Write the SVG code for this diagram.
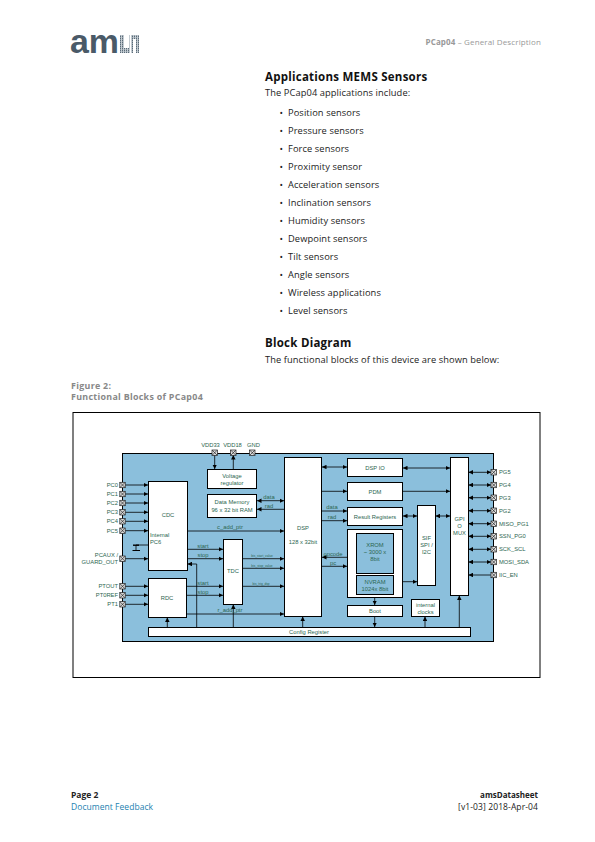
<svg xmlns="http://www.w3.org/2000/svg" width="595" height="842" viewBox="0 0 595 842">
<style>
text{font-family:"Open Sans","Noto Sans",sans-serif;fill:#222}
.h{font-weight:700;font-size:11.5px;fill:#111}
.b{font-size:9.3px;letter-spacing:.09px}
.g{fill:#888;font-weight:700;font-size:8.9px;letter-spacing:.3px}
.l{font-family:"Liberation Sans",Arial,sans-serif;font-size:5.8px;fill:#2c6650}
.m{text-anchor:middle}
.s{font-size:3.2px}
.box{fill:#fff;stroke:#000;stroke-width:1}
.c line,.c path{stroke:#000;stroke-width:.8;fill:none}
.a{marker-end:url(#e)}
.d{marker-end:url(#e);marker-start:url(#st)}
</style>
<defs>
<marker id="e" viewBox="0 0 6 6" refX="6" refY="3" markerWidth="4.5" markerHeight="4.5" markerUnits="userSpaceOnUse" orient="auto"><path d="M0 0L6 3L0 6Z" fill="#000"/></marker>
<marker id="st" viewBox="0 0 6 6" refX="0" refY="3" markerWidth="4.5" markerHeight="4.5" markerUnits="userSpaceOnUse" orient="auto"><path d="M6 0L0 3L6 6Z" fill="#000"/></marker>
<pattern id="hatch" width="2" height="2" patternUnits="userSpaceOnUse"><rect width="2" height="2" fill="#5a6b78"/><rect x="1" width="1" height="2" fill="#c4ccd2"/><rect y="1" width="2" height=".6" fill="#c4ccd2"/></pattern>
<g id="pin"><rect x="-2.7" y="-2.7" width="5.4" height="5.4" fill="#ddd" stroke="#222" stroke-width=".7"/><path d="M-2.5-2.5L2.5 2.5M2.5-2.5L-2.5 2.5" stroke="#222" stroke-width=".7"/></g>
</defs>
<rect width="595" height="842" fill="#fff"/>
<g id="logo"><text x="70" y="52.5" style="font-family:'Liberation Sans',sans-serif;font-weight:700;font-size:34px;fill:#4a5a68" textLength="49" lengthAdjust="spacingAndGlyphs">am</text>
<path d="M120 35h4v13h5v-13h1v18h-10zM131 35h8v18h-3v-14h-3v14h-2z" fill="url(#hatch)"/></g>
<text x="541" y="45" text-anchor="end" style="font-size:8px;fill:#999;letter-spacing:.14px"><tspan font-weight="700">PCap04</tspan> – General Description</text>
<text x="265" y="80.5" class="h" letter-spacing=".25">Applications MEMS Sensors</text>
<text x="265" y="96" class="b">The PCap04 applications include:</text>
<g id="list">
<text x="279.5" y="116" class="b">•</text><text x="288" y="116" class="b">Position sensors</text>
<text x="279.5" y="134" class="b">•</text><text x="288" y="134" class="b">Pressure sensors</text>
<text x="279.5" y="152" class="b">•</text><text x="288" y="152" class="b">Force sensors</text>
<text x="279.5" y="170" class="b">•</text><text x="288" y="170" class="b">Proximity sensor</text>
<text x="279.5" y="188" class="b">•</text><text x="288" y="188" class="b">Acceleration sensors</text>
<text x="279.5" y="206" class="b">•</text><text x="288" y="206" class="b">Inclination sensors</text>
<text x="279.5" y="224" class="b">•</text><text x="288" y="224" class="b">Humidity sensors</text>
<text x="279.5" y="242" class="b">•</text><text x="288" y="242" class="b">Dewpoint sensors</text>
<text x="279.5" y="260" class="b">•</text><text x="288" y="260" class="b">Tilt sensors</text>
<text x="279.5" y="278" class="b">•</text><text x="288" y="278" class="b">Angle sensors</text>
<text x="279.5" y="296" class="b">•</text><text x="288" y="296" class="b">Wireless applications</text>
<text x="279.5" y="314" class="b">•</text><text x="288" y="314" class="b">Level sensors</text>
</g>
<text x="265" y="347" class="h" letter-spacing=".25">Block Diagram</text>
<text x="265" y="363" class="b">The functional blocks of this device are shown below:</text>
<text x="71" y="389" class="g">Figure 2:</text>
<text x="71" y="400" class="g">Functional Blocks of PCap04</text>
<rect x="73" y="412.5" width="467" height="265" fill="#fff" stroke="#000" stroke-width="1"/>
<rect id="chip" x="122.5" y="453.5" width="371" height="188" fill="#8bbfdc" stroke="#000" stroke-width="1"/>

<g id="connectors" class="c">
<line class="a" x1="214.7" y1="455" x2="214.7" y2="469"/>
<line class="a" x1="233.3" y1="469" x2="233.3" y2="455"/>
<line class="a" x1="125" y1="485" x2="148" y2="485"/>
<line class="a" x1="125" y1="494" x2="148" y2="494"/>
<line class="a" x1="125" y1="503" x2="148" y2="503"/>
<line class="a" x1="125" y1="512.3" x2="148" y2="512.3"/>
<line class="a" x1="125" y1="521.3" x2="148" y2="521.3"/>
<line class="a" x1="125" y1="530.7" x2="148" y2="530.7"/>
<line class="a" x1="125" y1="558.7" x2="148" y2="558.7"/>
<line class="a" x1="125" y1="586.3" x2="148" y2="586.3"/>
<line class="a" x1="125" y1="595.3" x2="148" y2="595.3"/>
<line class="a" x1="125" y1="604.3" x2="148" y2="604.3"/>
<line class="d" x1="257" y1="500.7" x2="284" y2="500.7"/>
<line class="a" x1="284" y1="509.3" x2="257" y2="509.3"/>
<line class="a" x1="187" y1="531" x2="284" y2="531"/>
<line class="a" x1="187" y1="549.3" x2="223" y2="549.3"/>
<line class="a" x1="187" y1="558.7" x2="223" y2="558.7"/>
<path class="a" d="M196.7 627V564H187.5"/>
<line class="a" x1="186.7" y1="586.3" x2="223" y2="586.3"/>
<line class="a" x1="186.7" y1="595.3" x2="223" y2="595.3"/>
<line class="a" x1="186.7" y1="614" x2="284" y2="614"/>
<line class="a" x1="233.3" y1="627" x2="233.3" y2="604.5"/>
<line class="a" x1="167.3" y1="627" x2="167.3" y2="617.5"/>
<line class="a" x1="243" y1="558.7" x2="284" y2="558.7"/>
<line class="a" x1="243" y1="568.3" x2="284" y2="568.3"/>
<line class="a" x1="243" y1="586.3" x2="284" y2="586.3"/>
<line class="a" x1="302.7" y1="627" x2="302.7" y2="616.5"/>
<line class="d" x1="322" y1="467" x2="347" y2="467"/>
<line class="a" x1="322" y1="491.3" x2="347" y2="491.3"/>
<line class="a" x1="322" y1="511" x2="347" y2="511"/>
<line class="a" x1="322" y1="520.7" x2="347" y2="520.7"/>
<line class="a" x1="347" y1="557.3" x2="322" y2="557.3"/>
<line class="a" x1="322" y1="566.3" x2="347" y2="566.3"/>
<line class="a" x1="374.7" y1="597" x2="374.7" y2="605"/>
<line class="a" x1="374.7" y1="616" x2="374.7" y2="627"/>
<line class="d" x1="393.5" y1="581.7" x2="417" y2="581.7"/>
<line class="d" x1="403" y1="516" x2="417" y2="516"/>
<line class="d" x1="435.5" y1="516" x2="450" y2="516"/>
<line class="d" x1="403" y1="468" x2="450" y2="468"/>
<line class="a" x1="403" y1="491.3" x2="450" y2="491.3"/>
<line class="a" x1="425" y1="627" x2="425" y2="616.5"/>
<line class="a" x1="459.3" y1="627" x2="459.3" y2="595.5"/>
<line class="d" x1="468.5" y1="472.3" x2="491" y2="472.3"/>
<line class="d" x1="468.5" y1="485" x2="491" y2="485"/>
<line class="d" x1="468.5" y1="497.7" x2="491" y2="497.7"/>
<line class="d" x1="468.5" y1="510.7" x2="491" y2="510.7"/>
<line class="d" x1="468.5" y1="523.7" x2="491" y2="523.7"/>
<line class="d" x1="468.5" y1="536.3" x2="491" y2="536.3"/>
<line class="d" x1="468.5" y1="549.3" x2="491" y2="549.3"/>
<line class="d" x1="468.5" y1="562" x2="491" y2="562"/>
<line class="a" x1="491" y1="575" x2="468.5" y2="575"/>
</g>

<g id="vreg"><rect class="box" x="207.5" y="469.5" width="49" height="19"/><text class="l m" x="232" y="477.5">Voltage</text><text class="l m" x="232" y="484.5">regulator</text></g>
<g id="dmem"><rect class="box" x="207.5" y="494.5" width="49" height="23"/><text class="l m" x="232" y="504">Data Memory</text><text class="l m" x="232" y="511.5">96 x 32 bit RAM</text></g>
<g id="cdc"><rect class="box" x="148.5" y="481.5" width="39" height="89"/><text class="l m" x="168" y="516.5">CDC</text><text class="l" x="150" y="536.5">Internal</text><text class="l" x="150" y="543.5">PC6</text></g>
<g id="cap" class="c"><path d="M148 545H136V551"/><path d="M133 545.2H139" style="stroke-width:1.4"/><path d="M132.5 550.5H140" style="stroke-width:1"/></g>
<g id="rdc"><rect class="box" x="148.5" y="578.5" width="38" height="39"/><text class="l m" x="167" y="599.5">RDC</text></g>
<g id="tdc"><rect class="box" x="223.5" y="539.5" width="19" height="65"/><text class="l m" x="233" y="572.5">TDC</text></g>
<g id="dsp"><rect class="box" x="284.5" y="457.5" width="37" height="159"/><text class="l m" x="303" y="530">DSP</text><text class="l m" x="303" y="544">128 x 32bit</text></g>
<g id="dspio"><rect class="box" x="347.5" y="458.5" width="55" height="18"/><text class="l m" x="375" y="469.5">DSP IO</text></g>
<g id="pdm"><rect class="box" x="347.5" y="482.5" width="55" height="18"/><text class="l m" x="375" y="493.5">PDM</text></g>
<g id="result"><rect class="box" x="347.5" y="507.5" width="55" height="18"/><text class="l m" x="375" y="518.5">Result Registers</text></g>
<g id="mem"><rect class="box" x="347.5" y="529.5" width="55" height="68"/>
<g id="xrom"><rect x="356.5" y="533.5" width="37" height="40" fill="#8bbfdc" stroke="#000"/><text class="l m" x="375" y="547">XROM</text><text class="l m" x="375" y="554">~ 3000 x</text><text class="l m" x="375" y="561">8bit</text></g>
<g id="nvram"><rect x="356.5" y="575.5" width="37" height="19" fill="#8bbfdc" stroke="#000"/><text class="l m" x="375" y="583.5">NVRAM</text><text class="l m" x="375" y="590.5">1024x 8bit</text></g></g>
<g id="boot"><rect class="box" x="347.5" y="605.5" width="55" height="11"/><text class="l m" x="375" y="612.5">Boot</text></g>
<g id="sif"><rect class="box" x="417.5" y="505.5" width="18" height="80"/><text class="l m" x="426.5" y="539.5">SIF</text><text class="l m" x="426.5" y="546.5">SPI /</text><text class="l m" x="426.5" y="553.5">I2C</text></g>
<g id="gpio"><rect class="box" x="450.5" y="457.5" width="18" height="138"/><text class="l m" x="459.5" y="520.5">GPI</text><text class="l m" x="459.5" y="528">O</text><text class="l m" x="459.5" y="535">MUX</text></g>
<g id="clocks"><rect class="box" x="411.5" y="599.5" width="28" height="17"/><text class="l m" x="425.5" y="606.5">internal</text><text class="l m" x="425.5" y="613.5">clocks</text></g>
<g id="config"><rect class="box" x="148.5" y="627.5" width="322" height="9"/><text class="l m" x="309" y="633.5">Config Register</text></g>

<g id="pins">
<use href="#pin" x="214.7" y="452.7"/><use href="#pin" x="233.3" y="452.7"/><use href="#pin" x="252.3" y="452.7"/>
<use href="#pin" x="122.5" y="485"/><use href="#pin" x="122.5" y="494"/><use href="#pin" x="122.5" y="503"/><use href="#pin" x="122.5" y="512.3"/><use href="#pin" x="122.5" y="521.3"/><use href="#pin" x="122.5" y="530.7"/><use href="#pin" x="122.5" y="558.7"/><use href="#pin" x="122.5" y="586.3"/><use href="#pin" x="122.5" y="595.3"/><use href="#pin" x="122.5" y="604.3"/>
<use href="#pin" x="493.7" y="472.3"/><use href="#pin" x="493.7" y="485"/><use href="#pin" x="493.7" y="497.7"/><use href="#pin" x="493.7" y="510.7"/><use href="#pin" x="493.7" y="523.7"/><use href="#pin" x="493.7" y="536.3"/><use href="#pin" x="493.7" y="549.3"/><use href="#pin" x="493.7" y="562"/><use href="#pin" x="493.7" y="575"/>
</g>
<g id="labels">
<text class="l m" x="210.5" y="447">VDD33</text><text class="l m" x="232.5" y="447">VDD18</text><text class="l m" x="253.5" y="447">GND</text>
<text class="l" text-anchor="end" x="118" y="487">PC0</text><text class="l" text-anchor="end" x="118" y="496">PC1</text><text class="l" text-anchor="end" x="118" y="505">PC2</text><text class="l" text-anchor="end" x="118" y="514">PC3</text><text class="l" text-anchor="end" x="118" y="523">PC4</text><text class="l" text-anchor="end" x="118" y="532.5">PC5</text>
<text class="l" text-anchor="end" x="118" y="557">PCAUX /</text><text class="l" text-anchor="end" x="118" y="564">GUARD_OUT</text>
<text class="l" text-anchor="end" x="118" y="588">PTOUT</text><text class="l" text-anchor="end" x="118" y="597">PT0REF</text><text class="l" text-anchor="end" x="118" y="606">PT1</text>
<text class="l" x="499" y="474">PG5</text><text class="l" x="499" y="487">PG4</text><text class="l" x="499" y="499.5">PG3</text><text class="l" x="499" y="512.5">PG2</text><text class="l" x="499" y="525.5">MISO_PG1</text><text class="l" x="499" y="538">SSN_PG0</text><text class="l" x="499" y="551">SCK_SCL</text><text class="l" x="499" y="564">MOSI_SDA</text><text class="l" x="499" y="577">IIC_EN</text>
<text class="l m" x="269" y="498.5">data</text><text class="l m" x="269" y="507.5">rad</text>
<text class="l m" x="230" y="529">c_add_ptr</text>
<text class="l m" x="203" y="547.5">start</text><text class="l m" x="203" y="557">stop</text><text class="l m" x="203" y="584.5">start</text><text class="l m" x="203" y="594">stop</text>
<text class="l m" x="230" y="612">r_add_ptr</text>
<text class="l m s" x="262" y="557">bis_start_value</text><text class="l m s" x="262" y="566.5">bis_stop_value</text><text class="l m s" x="261" y="584.5">bis_trig_dsp</text>
<text class="l m" x="332" y="509">data</text><text class="l m" x="332" y="518.5">rad</text><text class="l m" x="333" y="555.5">opcode</text><text class="l m" x="333" y="564.5">pc</text>
</g>
<text x="71" y="798" style="font-weight:700;font-size:8.5px">Page 2</text>
<text x="71" y="810" style="font-size:8.5px;fill:#1d7fb0;letter-spacing:.05px">Document Feedback</text>
<text x="538" y="798" text-anchor="end" style="font-weight:700;font-size:8px">amsDatasheet</text>
<text x="538" y="810" text-anchor="end" style="font-size:8.5px;letter-spacing:.1px">[v1-03] 2018-Apr-04</text>
</svg>
